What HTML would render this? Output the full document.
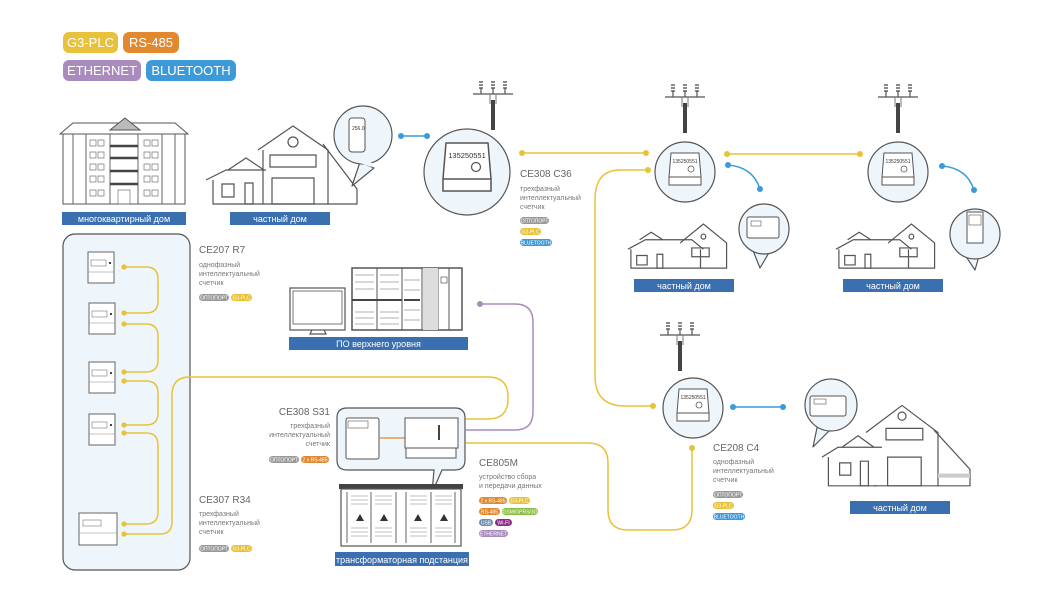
<!DOCTYPE html>
<html><head><meta charset="utf-8"><style>
html,body{margin:0;padding:0;background:#fff}
svg{display:block;font-family:"Liberation Sans",sans-serif}
.t{font-size:7px;fill:#777}
.h{font-size:10px;fill:#666}
.lb{font-size:9px;fill:#fff;text-anchor:middle}
.pt{font-size:5px;fill:#fff;text-anchor:middle}
.o{fill:none;stroke:#555;stroke-width:1.2;vector-effect:non-scaling-stroke}
.o2{fill:#fff;stroke:#555;stroke-width:1}
.y{fill:none;stroke:#e8c23a;stroke-width:1.5}
.p{fill:none;stroke:#a98bbd;stroke-width:1.5}
.b{fill:none;stroke:#3d9ad9;stroke-width:1.5}
</style></head><body>
<svg width="1060" height="600" viewBox="0 0 1060 600" xmlns="http://www.w3.org/2000/svg">
<defs>
<g id="pole"><path d="M-20 14H20M-12 8V14M0 8V14M12 8V14" stroke="#555" stroke-width="1.2" fill="none"/><path d="M-14 2h4M-14 5h4M-14 8h4M-2 2h4M-2 5h4M-2 8h4M10 2h4M10 5h4M10 8h4" stroke="#444" stroke-width="1.2"/><path d="M-3 14V24M3 14V24" stroke="#777" stroke-width="1"/><rect x="-2" y="20" width="4" height="30" fill="#444"/></g>
<g id="cm"><path d="M-14 -20h28l2 24v8h-32v-8z" fill="#fff" stroke="#555" stroke-width="1"/><line x1="-16" y1="4" x2="16" y2="4" stroke="#555"/><circle cx="6" cy="-4" r="3" fill="none" stroke="#555" stroke-width=".8"/><text x="0" y="-10" font-size="5" text-anchor="middle" fill="#333">135250551</text></g>
<g id="sm"><rect x="0" y="0" width="26" height="31" fill="#fff" stroke="#666"/><rect x="3" y="8" width="15" height="6" fill="none" stroke="#777" stroke-width=".6"/><line x1="0" y1="20" x2="26" y2="20" stroke="#888" stroke-width=".6"/><rect x="21" y="10" width="2" height="2" fill="#444"/></g>
<g id="house"><path d="M0 40l30-15h80l20 15" class="o"/><path d="M5 40v30h120v-30" class="o"/><path d="M90 30l40-30 40 30v40h-45" class="o"/><path d="M20 25l20-12 20 12" class="o"/><rect x="15" y="50" width="18" height="15" class="o"/><rect x="50" y="48" width="10" height="22" class="o"/><rect x="110" y="38" width="30" height="14" class="o"/><circle cx="130" cy="20" r="4" class="o"/></g>
</defs>

<!-- legend -->
<rect x="63" y="32" width="55" height="21" rx="6" fill="#e8c23a"/><text x="90.5" y="47" font-size="13" fill="#fff" text-anchor="middle">G3-PLC</text>
<rect x="123" y="32" width="56" height="21" rx="6" fill="#e0892f"/><text x="151" y="47" font-size="13" fill="#fff" text-anchor="middle">RS-485</text>
<rect x="63" y="60" width="78" height="21" rx="6" fill="#a98bbd"/><text x="102" y="75" font-size="13" fill="#fff" text-anchor="middle">ETHERNET</text>
<rect x="146" y="60" width="90" height="21" rx="6" fill="#3d9ad9"/><text x="191" y="75" font-size="13" fill="#fff" text-anchor="middle">BLUETOOTH</text>

<!-- apartment building -->
<path d="M60 134l13-11h102l13 11z" class="o2"/>
<path d="M110 130l15-12 15 12z" fill="#bbb" stroke="#555"/>
<rect x="63" y="134" width="122" height="70" class="o2"/>
<path d="M73 134v70M86 134v70M162 134v70M175 134v70M110 134v70M138 134v70" stroke="#666" fill="none"/>
<path d="M110 146h28M110 158h28M110 171h28M110 184h28" stroke="#444" stroke-width="2.5"/>
<path d="M90 140h6v6h-6zM98 140h6v6h-6zM90 152h6v6h-6zM98 152h6v6h-6zM90 164h6v6h-6zM98 164h6v6h-6zM90 176h6v6h-6zM98 176h6v6h-6zM90 190h6v6h-6zM98 190h6v6h-6zM144 140h6v6h-6zM152 140h6v6h-6zM144 152h6v6h-6zM152 152h6v6h-6zM144 164h6v6h-6zM152 164h6v6h-6zM144 176h6v6h-6zM152 176h6v6h-6zM144 190h6v6h-6zM152 190h6v6h-6zM118 190h12v14h-12z" fill="none" stroke="#777" stroke-width=".7"/>
<rect x="62" y="212" width="124" height="13" fill="#3a6fb0"/><text x="124" y="222" class="lb">многоквартирный дом</text>

<!-- private house -->
<path d="M206 180l20-10h40" class="o"/><path d="M213 180v24h50" class="o"/>
<path d="M228 170l18-12 18 12" class="o"/>
<path d="M258 150l35-24 35 24v54h-65v-54" class="o"/><path d="M323 144l34 45v15h-30" class="o"/>
<circle cx="293" cy="142" r="5" class="o"/><rect x="270" y="155" width="46" height="12" class="o"/><rect x="272" y="178" width="42" height="26" class="o"/>
<rect x="222" y="184" width="12" height="13" class="o"/><rect x="245" y="183" width="8" height="21" class="o"/>
<rect x="230" y="212" width="100" height="13" fill="#3a6fb0"/><text x="280" y="222" class="lb">частный дом</text>

<!-- bubble phone -->
<path d="M352 186l8-24 14 6z" fill="#eef5fb" stroke="#555" stroke-width="1.2" stroke-linejoin="round"/>
<circle cx="363" cy="135" r="29" fill="#eef5fb" stroke="#555" stroke-width="1.2"/>
<path d="M357 160l15 5" stroke="#eef5fb" stroke-width="4"/>
<rect x="349" y="118" width="16" height="34" rx="3" fill="#fff" stroke="#555"/><text x="352" y="130" font-size="5" fill="#333">256.0</text>

<!-- blue link -->
<line x1="401" y1="136" x2="427" y2="136" class="b"/><circle cx="401" cy="136" r="3" fill="#3d9ad9"/><circle cx="427" cy="136" r="3" fill="#3d9ad9"/>

<!-- poles -->
<use href="#pole" x="493" y="80"/>
<use href="#pole" x="685" y="83"/>
<use href="#pole" x="898" y="83"/>
<use href="#pole" x="680" y="321"/>

<!-- meter circles -->
<circle cx="467" cy="172" r="43" fill="#eef5fb" stroke="#555" stroke-width="1.2"/>
<g transform="translate(467,173) scale(1.5)"><use href="#cm"/></g>
<circle cx="685" cy="172" r="30" fill="#eef5fb" stroke="#555" stroke-width="1.2"/><use href="#cm" x="685" y="173"/>
<circle cx="898" cy="172" r="30" fill="#eef5fb" stroke="#555" stroke-width="1.2"/><use href="#cm" x="898" y="173"/>
<circle cx="693" cy="408" r="30" fill="#eef5fb" stroke="#555" stroke-width="1.2"/><use href="#cm" x="693" y="409"/>

<!-- CE308 C36 text -->
<text x="520" y="177" class="h">CE308 C36</text>
<text x="520" y="191" class="t">трехфазный</text><text x="520" y="200" class="t">интеллектуальный</text><text x="520" y="209" class="t">счетчик</text>
<rect x="520" y="217" width="29" height="7" rx="3.5" fill="#999"/><text x="534.5" y="222.5" class="pt">ОПТОПОРТ</text>
<rect x="520" y="228" width="21" height="7" rx="3.5" fill="#e8c23a"/><text x="530.5" y="233.5" class="pt">G3-PLC</text>
<rect x="520" y="239" width="32" height="7" rx="3.5" fill="#3d9ad9"/><text x="536" y="244.5" class="pt">BLUETOOTH</text>

<!-- yellow top links -->
<line x1="522" y1="153" x2="646" y2="153" class="y"/><circle cx="522" cy="153" r="3" fill="#e8c23a"/><circle cx="646" cy="153" r="3" fill="#e8c23a"/>
<line x1="727" y1="154" x2="860" y2="154" class="y"/><circle cx="727" cy="154" r="3" fill="#e8c23a"/><circle cx="860" cy="154" r="3" fill="#e8c23a"/>
<path d="M648 170H620q-25 0 -25 30V376q0 30 30 30h28" class="y"/><circle cx="648" cy="170" r="3" fill="#e8c23a"/><circle cx="653" cy="406" r="3" fill="#e8c23a"/>

<!-- blue small curves -->
<path d="M728 165q25 2 32 24" class="b"/><circle cx="728" cy="165" r="3" fill="#3d9ad9"/><circle cx="760" cy="189" r="3" fill="#3d9ad9"/>
<path d="M942 166q25 2 32 24" class="b"/><circle cx="942" cy="166" r="3" fill="#3d9ad9"/><circle cx="974" cy="190" r="3" fill="#3d9ad9"/>
<line x1="733" y1="407" x2="783" y2="407" class="b"/><circle cx="733" cy="407" r="3" fill="#3d9ad9"/><circle cx="783" cy="407" r="3" fill="#3d9ad9"/>

<!-- right houses -->
<g transform="translate(628,224) scale(0.58,0.63)"><use href="#house"/></g>
<rect x="634" y="279" width="100" height="13" fill="#3a6fb0"/><text x="684" y="289" class="lb">частный дом</text>
<g transform="translate(836,224) scale(0.58,0.63)"><use href="#house"/></g>
<rect x="843" y="279" width="100" height="13" fill="#3a6fb0"/><text x="893" y="289" class="lb">частный дом</text>

<!-- small bubbles -->
<path d="M752 248l8 20 10-17z" fill="#eef5fb" stroke="#555" stroke-width="1.2" stroke-linejoin="round"/>
<circle cx="764" cy="229" r="25" fill="#eef5fb" stroke="#555" stroke-width="1.2"/><path d="M754 247l14 3" stroke="#eef5fb" stroke-width="4"/>
<rect x="747" y="217" width="32" height="21" rx="2" fill="#fff" stroke="#555"/><rect x="751" y="221" width="10" height="5" fill="none" stroke="#555" stroke-width=".6"/>
<path d="M963 252l12 18 4-14z" fill="#eef5fb" stroke="#555" stroke-width="1.2" stroke-linejoin="round"/>
<circle cx="975" cy="234" r="25" fill="#eef5fb" stroke="#555" stroke-width="1.2"/><path d="M964 251l14 4" stroke="#eef5fb" stroke-width="4"/>
<rect x="967" y="212" width="16" height="31" fill="#fff" stroke="#555"/><rect x="969" y="215" width="12" height="10" fill="none" stroke="#555" stroke-width=".6"/>
<path d="M818 423l-5 24 18-18z" fill="#eef5fb" stroke="#555" stroke-width="1.2" stroke-linejoin="round"/>
<circle cx="831" cy="405" r="26" fill="#eef5fb" stroke="#555" stroke-width="1.2"/><path d="M819 424l11 4" stroke="#eef5fb" stroke-width="4"/>
<rect x="810" y="396" width="36" height="20" rx="2" fill="#fff" stroke="#555"/><rect x="814" y="399" width="12" height="5" fill="none" stroke="#555" stroke-width=".6"/>

<!-- bottom right house -->
<g transform="translate(822,412) scale(0.8,0.82)">
<path d="M0 55l20-12h55" class="o"/><path d="M8 55v35h60" class="o"/><path d="M25 43l20-14 20 14" class="o"/>
<path d="M55 25l45-33 45 33v65h-80" class="o"/><path d="M140 22l45 48v20h-40" class="o"/>
<circle cx="100" cy="5" r="5" class="o"/><rect x="80" y="20" width="46" height="14" class="o"/><rect x="82" y="55" width="42" height="35" class="o"/>
<rect x="22" y="62" width="14" height="15" class="o"/><rect x="48" y="60" width="10" height="30" class="o"/><rect x="145" y="75" width="40" height="5" fill="#ccc"/></g>
<rect x="850" y="501" width="100" height="13" fill="#3a6fb0"/><text x="900" y="511" class="lb">частный дом</text>

<!-- CE208 C4 text -->
<text x="713" y="451" class="h">CE208 C4</text>
<text x="713" y="464" class="t">однофазный</text><text x="713" y="473" class="t">интеллектуальный</text><text x="713" y="482" class="t">счетчик</text>
<rect x="713" y="491" width="30" height="7" rx="3.5" fill="#999"/><text x="728" y="496.5" class="pt">ОПТОПОРТ</text>
<rect x="713" y="502" width="21" height="7" rx="3.5" fill="#e8c23a"/><text x="723.5" y="507.5" class="pt">G3-PLC</text>
<rect x="713" y="513" width="32" height="7" rx="3.5" fill="#3d9ad9"/><text x="729" y="518.5" class="pt">BLUETOOTH</text>

<!-- left panel -->
<rect x="63" y="234" width="127" height="336" rx="12" fill="#eef5fb" stroke="#555" stroke-width="1.2"/>
<use href="#sm" x="88" y="252"/><use href="#sm" x="89" y="303"/><use href="#sm" x="89" y="362"/><use href="#sm" x="89" y="414"/>
<rect x="79" y="513" width="38" height="32" fill="#fff" stroke="#666"/><rect x="83" y="520" width="18" height="6" fill="none" stroke="#777" stroke-width=".6"/><line x1="79" y1="533" x2="117" y2="533" stroke="#888" stroke-width=".6"/>
<path d="M124 267h22q12 0 12 12v22q0 12 -12 12h-22" class="y"/>
<path d="M124 324h22q12 0 12 12v24q0 12 -12 12h-22" class="y"/>
<path d="M124 381h22q12 0 12 12v20q0 12 -12 12h-22" class="y"/>
<path d="M124 433h22q12 0 12 12v67q0 12 -12 12h-22" class="y"/>
<path d="M124 534h36q12 0 12 -12V395q0 -18 18 -18H488q20 0 20 20v2q0 20 -20 20h-22" class="y"/>
<g fill="#e8c23a"><circle cx="124" cy="267" r="2.6"/><circle cx="124" cy="313" r="2.6"/><circle cx="124" cy="324" r="2.6"/><circle cx="124" cy="372" r="2.6"/><circle cx="124" cy="381" r="2.6"/><circle cx="124" cy="425" r="2.6"/><circle cx="124" cy="433" r="2.6"/><circle cx="124" cy="524" r="2.6"/><circle cx="124" cy="534" r="2.6"/></g>

<!-- CE207 / CE307 text -->
<text x="199" y="253" class="h">CE207 R7</text>
<text x="199" y="267" class="t">однофазный</text><text x="199" y="276" class="t">интеллектуальный</text><text x="199" y="285" class="t">счетчик</text>
<rect x="199" y="294" width="30" height="7" rx="3.5" fill="#999"/><text x="214" y="299.5" class="pt">ОПТОПОРТ</text>
<rect x="231" y="294" width="21" height="7" rx="3.5" fill="#e8c23a"/><text x="241.5" y="299.5" class="pt">G3-PLC</text>
<text x="199" y="503" class="h">CE307 R34</text>
<text x="199" y="516" class="t">трехфазный</text><text x="199" y="525" class="t">интеллектуальный</text><text x="199" y="534" class="t">счетчик</text>
<rect x="199" y="545" width="30" height="7" rx="3.5" fill="#999"/><text x="214" y="550.5" class="pt">ОПТОПОРТ</text>
<rect x="231" y="545" width="21" height="7" rx="3.5" fill="#e8c23a"/><text x="241.5" y="550.5" class="pt">G3-PLC</text>

<!-- computer & rack -->
<rect x="290" y="288" width="55" height="42" fill="#fff" stroke="#555" stroke-width="1.2"/><rect x="293" y="291" width="49" height="33" fill="none" stroke="#555" stroke-width=".8"/><path d="M312 330l-2 4h16l-2-4" class="o"/>
<rect x="352" y="268" width="110" height="62" fill="#fff" stroke="#555" stroke-width="1.5"/>
<path d="M377 268v62M402 268v62M422 268v62M438 268v62M449 268v62" stroke="#555" fill="none"/>
<rect x="423" y="268" width="15" height="62" fill="#ddd"/>
<path d="M355 275h19M355 282h19M355 289h19M355 312h19M355 318h19M355 324h19M380 275h19M380 282h19M380 289h19M380 312h19M380 318h19M380 324h19M404 280h16M404 290h16M404 310h16M404 320h16" stroke="#999" stroke-width=".7"/>
<path d="M352 300h50M404 300h16" stroke="#444" stroke-width="2"/>
<rect x="441" y="277" width="6" height="6" fill="none" stroke="#555" stroke-width=".7"/>
<rect x="289" y="337" width="179" height="13" fill="#3a6fb0"/><text x="378.5" y="347" class="lb">ПО верхнего уровня</text>

<!-- purple -->
<path d="M480 304h35q18 0 18 18V412q0 18 -18 18h-49" class="p"/><circle cx="480" cy="304" r="3" fill="#a98bbd"/>

<!-- yellow to CE208 -->
<path d="M466 443H588q20 0 20 20v47q0 20 20 20h44q20 0 20 -20V448" class="y"/><circle cx="692" cy="448" r="3" fill="#e8c23a"/>

<!-- CE805M bubble -->
<path d="M347 408h108q10 0 10 10v42q0 10 -10 10h-13l-10 23 2-23H347q-10 0 -10-10v-42q0-10 10-10z" fill="#eef5fb" stroke="#555" stroke-width="1.2"/>
<rect x="346" y="418" width="33" height="41" rx="2" fill="#fff" stroke="#555"/><rect x="348" y="421" width="20" height="7" fill="none" stroke="#555" stroke-width=".6"/>
<line x1="379" y1="438" x2="405" y2="438" stroke="#e0892f" stroke-width="1.3"/>
<rect x="405" y="418" width="53" height="30" fill="#fff" stroke="#555"/><rect x="406" y="448" width="50" height="10" fill="#fff" stroke="#555"/>
<rect x="438" y="425" width="2" height="15" fill="#444"/>
<text x="330" y="415" class="h" text-anchor="end">CE308 S31</text>
<text x="330" y="428" class="t" text-anchor="end">трехфазный</text><text x="330" y="437" class="t" text-anchor="end">интеллектуальный</text><text x="330" y="446" class="t" text-anchor="end">счетчик</text>
<rect x="269" y="456" width="30" height="7" rx="3.5" fill="#999"/><text x="284" y="461.5" class="pt">ОПТОПОРТ</text>
<rect x="301" y="456" width="28" height="7" rx="3.5" fill="#e0892f"/><text x="315" y="461.5" class="pt">2 x RS-485</text>

<!-- substation -->
<rect x="339" y="484" width="124" height="5" fill="#444"/>
<rect x="341" y="489" width="120" height="57" fill="#fff" stroke="#555" stroke-width="1.2"/>
<path d="M347 492v51M371 492v51M396 492v51M406 492v51M431 492v51M455 492v51" stroke="#666" fill="none"/>
<g stroke="#ccc" stroke-width="1.2"><path d="M351 496h17M351 500h17M351 504h17M351 528h17M351 532h17M351 536h17M375 496h17M375 500h17M375 504h17M375 528h17M375 532h17M375 536h17M410 496h17M410 500h17M410 504h17M410 528h17M410 532h17M410 536h17M435 496h17M435 500h17M435 504h17M435 528h17M435 532h17M435 536h17"/></g>
<g fill="#333"><path d="M356 521l4-7 4 7z"/><path d="M380 521l4-7 4 7z"/><path d="M414 521l4-7 4 7z"/><path d="M440 521l4-7 4 7z"/></g>
<rect x="335" y="552" width="134" height="14" fill="#3a6fb0"/><text x="402" y="563" class="lb">трансформаторная подстанция</text>

<!-- CE805M text -->
<text x="479" y="466" class="h">CE805M</text>
<text x="479" y="479" class="t">устройство сбора</text><text x="479" y="488" class="t">и передачи данных</text>
<rect x="479" y="497" width="28" height="7" rx="3.5" fill="#e0892f"/><text x="493" y="502.5" class="pt">2 x RS-485</text>
<rect x="509" y="497" width="21" height="7" rx="3.5" fill="#e8c23a"/><text x="519.5" y="502.5" class="pt">G3-PLC</text>
<rect x="479" y="508" width="21" height="7" rx="3.5" fill="#e0892f"/><text x="489.5" y="513.5" class="pt">RS-485</text>
<rect x="502" y="508" width="36" height="7" rx="3.5" fill="#8bbd45"/><text x="520" y="513.5" class="pt">GSM/GPRS/3G</text>
<rect x="479" y="519" width="14" height="7" rx="3.5" fill="#6b8fae"/><text x="486" y="524.5" class="pt">USB</text>
<rect x="495" y="519" width="17" height="7" rx="3.5" fill="#8e2c86"/><text x="503.5" y="524.5" class="pt">WI-FI</text>
<rect x="479" y="530" width="29" height="7" rx="3.5" fill="#a98bbd"/><text x="493.5" y="535.5" class="pt">ETHERNET</text>
</svg>
</body></html>
